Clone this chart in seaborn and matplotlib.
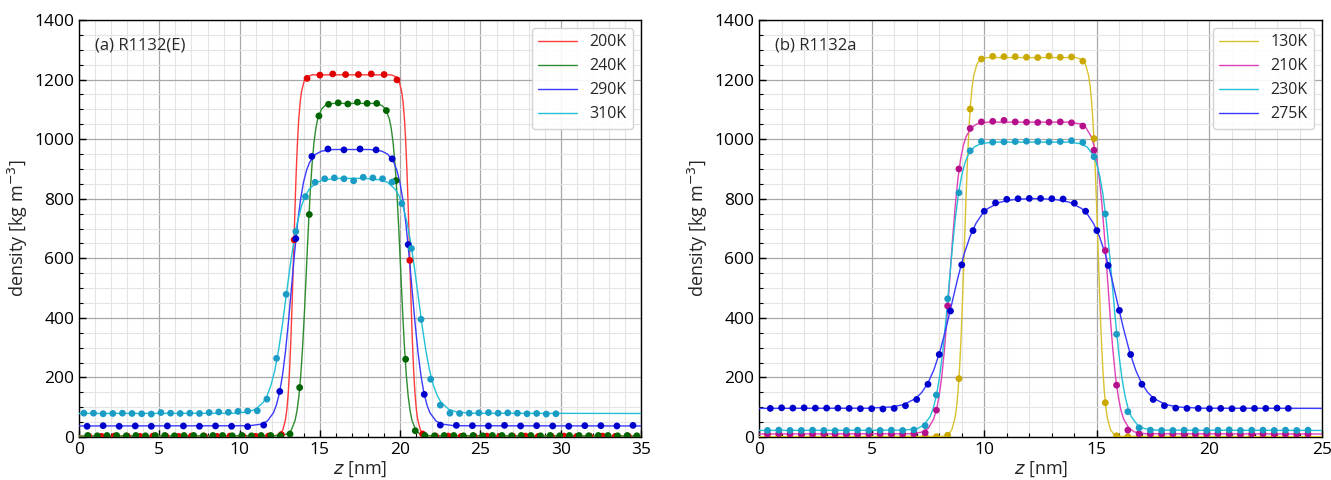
import numpy as np
import pandas as pd
import matplotlib
matplotlib.use("Agg")
import matplotlib.pyplot as plt
from matplotlib.ticker import MultipleLocator
import seaborn as sns

# ---------------- data: (a) R1132(E) ----------------
temps_a = ["200K", "240K", "290K", "310K"]

# simulation points (bin positions in nm, density in kg/m3)
pts_z_200 = np.round(0.6 + 0.8 * np.arange(43), 3)
pts_rho_200 = [3, 2, 3, 3, 2, 3, 3, 2, 3, 3, 2, 3, 3, 2, 3, 8, 662, 1204, 1215, 1219, 1217,
               1217, 1219, 1217, 1199, 593, 10, 3, 3, 2, 3, 3, 2, 3, 3, 2, 3, 3, 2, 3, 3, 2, 3]
pts_z_240 = np.round(0.54 + 0.6 * np.arange(58), 3)
pts_rho_240 = [5, 4, 5, 5, 4, 5, 4, 5, 5, 4, 5, 5, 4, 5, 5, 4, 5, 4, 5, 5, 4,
               10, 166, 747, 1078, 1117, 1122, 1118, 1124, 1120, 1120, 1096, 861, 261, 21, 5,
               4, 5, 5, 4, 5, 4, 5, 5, 4, 5, 5, 4, 5, 4, 5, 5, 4, 5, 5, 4, 5, 4]
pts_z_290 = np.round(0.5 + 1.0 * np.arange(35), 3)
pts_rho_290 = [36, 38, 36, 37, 36, 37, 37, 36, 37, 36, 35, 40, 153, 666, 942, 967, 964, 967,
               964, 934, 646, 143, 40, 39, 38, 37, 39, 37, 38, 37, 36, 38, 38, 37, 39]
pts_z_310 = np.round(0.3 + 0.6 * np.arange(50), 3)
pts_rho_310 = [80, 80, 78, 79, 80, 79, 78, 77, 82, 80, 79, 80, 79, 82, 84, 83,
               86, 87, 88, 127, 264, 479, 690, 807, 855, 867, 870, 867, 860, 872, 870, 867,
               856, 784, 633, 395, 194, 107, 80, 79,
               80, 81, 82, 80, 81, 80, 78, 79, 77, 78]

# fitted profiles
fit_z_200 = [0, 12.205, 12.535, 12.70, 12.865, 12.948, 13.03, 13.113, 13.195, 13.278, 13.36,
             13.443, 13.525, 13.608, 13.69, 13.773, 13.855, 14.02, 14.185, 14.515,
             19.435, 19.765, 19.93, 20.095, 20.178, 20.26, 20.343, 20.425, 20.508, 20.59,
             20.673, 20.755, 20.838, 20.92, 21.003, 21.085, 21.25, 21.415, 21.745, 35]
fit_rho_200 = [3, 4.1, 11.1, 24.9, 60.6, 95.1, 147.7, 224.5, 329.5, 461.3, 610, 758.7, 890.5,
               995.5, 1072.3, 1124.9, 1159.4, 1195.1, 1208.9, 1215.9, 1215.9, 1208.9, 1195.1,
               1159.4, 1124.9, 1072.3, 995.5, 890.5, 758.7, 610, 461.3, 329.5, 224.5, 147.7,
               95.1, 60.6, 24.9, 11.1, 4.1, 3]
fit_z_240 = [0, 12.515, 12.985, 13.22, 13.455, 13.573, 13.69, 13.808, 13.925, 14.043, 14.16,
             14.278, 14.395, 14.513, 14.63, 14.748, 14.865, 15.10, 15.335, 15.805,
             18.385, 18.855, 19.09, 19.325, 19.443, 19.56, 19.678, 19.795, 19.913, 20.03,
             20.148, 20.265, 20.383, 20.5, 20.618, 20.735, 20.97, 21.205, 21.675, 35]
fit_rho_240 = [3, 4.0, 10.5, 23.1, 56.0, 87.8, 136.3, 207.0, 303.7, 425.1, 562, 698.9, 820.3,
               917.0, 987.7, 1036.2, 1068.0, 1100.9, 1113.5, 1120.0, 1120.0, 1113.5, 1100.9,
               1068.0, 1036.2, 987.7, 917.0, 820.3, 698.9, 562, 425.1, 303.7, 207.0, 136.3,
               87.8, 56.0, 23.1, 10.5, 4.0, 3]
fit_z_290 = [0, 10.605, 11.355, 11.73, 12.105, 12.293, 12.48, 12.668, 12.855, 13.043, 13.23,
             13.418, 13.605, 13.793, 13.98, 14.168, 14.355, 14.73, 15.105, 15.855,
             18.105, 18.855, 19.23, 19.605, 19.793, 19.98, 20.168, 20.355, 20.543, 20.73,
             20.918, 21.105, 21.293, 21.48, 21.668, 21.855, 22.23, 22.605, 23.355, 35]
fit_rho_290 = [37, 37.8, 43.2, 53.7, 81.1, 107.5, 147.7, 206.5, 286.9, 387.7, 501.5, 615.3,
               716.1, 796.5, 855.3, 895.5, 921.9, 949.3, 959.8, 965.2, 965.2, 959.8, 949.3,
               921.9, 895.5, 855.3, 796.5, 716.1, 615.3, 501.5, 387.7, 286.9, 206.5, 147.7,
               107.5, 81.1, 53.7, 43.2, 37.8, 37]
fit_z_310 = [0, 9.575, 10.525, 11.0, 11.475, 11.713, 11.95, 12.188, 12.425, 12.663, 12.9,
             13.138, 13.375, 13.613, 13.85, 14.088, 14.325, 14.8, 15.275, 16.225,
             17.795, 18.745, 19.22, 19.695, 19.933, 20.17, 20.408, 20.645, 20.883, 21.12,
             21.358, 21.595, 21.833, 22.07, 22.308, 22.545, 23.02, 23.495, 24.445, 35]
fit_rho_310 = [79, 79.7, 84.3, 93.2, 116.5, 138.9, 173.2, 223.1, 291.5, 377.3, 474, 570.7,
               656.5, 724.9, 774.8, 809.1, 831.5, 854.8, 863.7, 868.3, 868.3, 863.7, 854.8,
               831.5, 809.1, 774.8, 724.9, 656.5, 570.7, 474, 377.3, 291.5, 223.1, 173.2,
               138.9, 116.5, 93.2, 84.3, 79.7, 79]

# ---------------- data: (b) R1132a ----------------
temps_b = ["130K", "210K", "230K", "275K"]

pts_z_130 = np.round(0.375 + 0.5 * np.arange(49), 3)
pts_rho_130 = [1, 2, 1, 1, 2, 1, 1, 2, 1, 1, 2, 1, 1, 2, 1, 1,
               6, 196, 1101, 1269, 1278, 1277, 1277, 1275, 1274, 1279, 1275, 1276, 1262, 1002, 115, 4,
               1, 2, 1, 1, 2, 1, 1, 2, 1, 1, 2, 1, 1, 2, 1, 1, 2]
pts_z_210 = np.round(0.375 + 0.5 * np.arange(49), 3)
pts_rho_210 = [10, 11, 10, 9, 10, 11, 10, 10, 9, 10, 11, 10, 10, 11,
               14, 90, 440, 900, 1036, 1058, 1060, 1063, 1058, 1057, 1056, 1057, 1058, 1055,
               1044, 963, 626, 174, 23, 11,
               10, 10, 11, 9, 10, 10, 11, 10, 9, 10, 11, 10, 10, 9, 10]
pts_z_230 = np.round(0.375 + 0.5 * np.arange(49), 3)
pts_rho_230 = [22, 23, 22, 22, 23, 22, 21, 22, 23, 22, 22, 23, 22,
               24, 38, 141, 464, 820, 961, 992, 990, 991, 992, 993, 992, 991, 992, 995,
               989, 941, 749, 345, 85, 31,
               23, 22, 22, 23, 22, 22, 23, 24, 22, 23, 23, 22, 23, 22, 23]
pts_z_275 = np.round(0.5 * np.arange(1, 48), 3)
pts_rho_275 = [96, 98, 97, 98, 97, 97, 97, 96, 95, 95,
               94, 96, 105, 126, 177, 277, 423, 578, 693, 758, 786, 798, 800, 801, 801, 800,
               799, 785, 758, 693, 576, 425, 277, 177, 126, 105, 97, 96,
               96, 95, 96, 95, 95, 96, 96, 97, 96]

fit_z_130 = [0, 8.135, 8.415, 8.555, 8.695, 8.765, 8.835, 8.905, 8.975, 9.045, 9.115, 9.185,
             9.255, 9.325, 9.395, 9.465, 9.535, 9.675, 9.815, 10.095,
             14.07, 14.35, 14.49, 14.63, 14.70, 14.77, 14.84, 14.91, 14.98, 15.05, 15.12,
             15.19, 15.26, 15.33, 15.40, 15.47, 15.61, 15.75, 16.03, 25]
fit_rho_130 = [1, 2.1, 9.5, 23.9, 61.5, 97.6, 152.9, 233.4, 343.6, 482.0, 638, 794.0, 932.4,
               1042.6, 1123.1, 1178.4, 1214.5, 1252.1, 1266.5, 1273.9, 1273.9, 1266.5, 1252.1,
               1214.5, 1178.4, 1123.1, 1042.6, 932.4, 794.0, 638, 482.0, 343.6, 233.4, 152.9,
               97.6, 61.5, 23.9, 9.5, 2.1, 1]
fit_z_210 = [0, 6.79, 7.27, 7.51, 7.75, 7.87, 7.99, 8.11, 8.23, 8.35, 8.47, 8.59, 8.71, 8.83,
             8.95, 9.07, 9.19, 9.43, 9.67, 10.15,
             13.79, 14.27, 14.51, 14.75, 14.87, 14.99, 15.11, 15.23, 15.35, 15.47, 15.59,
             15.71, 15.83, 15.95, 16.07, 16.19, 16.43, 16.67, 17.15, 25]
fit_rho_210 = [10, 10.9, 17.0, 28.9, 59.7, 89.5, 134.9, 201.2, 291.9, 405.7, 534, 662.3, 776.1,
               866.8, 933.1, 978.5, 1008.3, 1039.1, 1051.0, 1057.1, 1057.1, 1051.0, 1039.1,
               1008.3, 978.5, 933.1, 866.8, 776.1, 662.3, 534, 405.7, 291.9, 201.2, 134.9,
               89.5, 59.7, 28.9, 17.0, 10.9, 10]
fit_z_230 = [0, 6.47, 7.03, 7.31, 7.59, 7.73, 7.87, 8.01, 8.15, 8.29, 8.43, 8.57, 8.71, 8.85,
             8.99, 9.13, 9.27, 9.55, 9.83, 10.39,
             13.73, 14.29, 14.57, 14.85, 14.99, 15.13, 15.27, 15.41, 15.55, 15.69, 15.83,
             15.97, 16.11, 16.25, 16.39, 16.53, 16.81, 17.09, 17.65, 25]
fit_rho_230 = [22, 22.9, 28.5, 39.4, 68.0, 95.5, 137.5, 198.8, 282.6, 387.8, 506.5, 625.2,
               730.4, 814.2, 875.5, 917.5, 945.0, 973.6, 984.5, 990.1, 990.1, 984.5, 973.6,
               945.0, 917.5, 875.5, 814.2, 730.4, 625.2, 506.5, 387.8, 282.6, 198.8, 137.5,
               95.5, 68.0, 39.4, 28.5, 22.9, 22]
fit_z_275 = [0, 4.815, 5.885, 6.42, 6.955, 7.223, 7.49, 7.758, 8.025, 8.293, 8.56, 8.828,
             9.095, 9.363, 9.63, 9.898, 10.165, 10.70, 11.235, 11.77, 12.24,
             12.71, 13.245, 13.78, 14.315, 14.583, 14.85, 15.118, 15.385, 15.653, 15.92,
             16.188, 16.455, 16.723, 16.99, 17.258, 17.525, 18.06, 18.595, 19.665, 25]
fit_rho_275 = [96, 96.6, 100.7, 108.7, 129.5, 149.5, 180.0, 224.6, 285.6, 362.2, 448.5, 534.8,
               611.4, 672.4, 717.0, 747.5, 767.5, 788.3, 796.3, 799.3, 800.5, 799.3, 796.3,
               788.3, 767.5, 747.5, 717.0, 672.4, 611.4, 534.8, 448.5, 362.2, 285.6, 224.6,
               180.0, 149.5, 129.5, 108.7, 100.7, 96.6, 96]

# (line colour, point colour)
colors_a = [("#ff3b3b", "#e00000"), ("#2e8b2e", "#006400"),
            ("#3a3aff", "#0000cd"), ("#22c0d6", "#1a9cc4")]
colors_b = [("#d9c22e", "#c9a800"), ("#e040b8", "#b5108c"),
            ("#22c0d6", "#1a9cc4"), ("#3a3aff", "#0000cd")]

series_a = [(fit_z_200, fit_rho_200, pts_z_200, pts_rho_200),
            (fit_z_240, fit_rho_240, pts_z_240, pts_rho_240),
            (fit_z_290, fit_rho_290, pts_z_290, pts_rho_290),
            (fit_z_310, fit_rho_310, pts_z_310, pts_rho_310)]
series_b = [(fit_z_130, fit_rho_130, pts_z_130, pts_rho_130),
            (fit_z_210, fit_rho_210, pts_z_210, pts_rho_210),
            (fit_z_230, fit_rho_230, pts_z_230, pts_rho_230),
            (fit_z_275, fit_rho_275, pts_z_275, pts_rho_275)]

sns.set_style("whitegrid")
plt.rcParams['font.family'] = ['Open Sans', 'DejaVu Sans']
plt.rcParams['mathtext.fontset'] = 'dejavusans'

fig = plt.figure(figsize=(13.31, 4.8), dpi=100)
ax_a = fig.add_axes([0.0594, 0.0896, 0.4222, 0.8687])
ax_b = fig.add_axes([0.5703, 0.0896, 0.4230, 0.8687])


def draw_panel(ax, series, temps, colors, xmax, title):
    for (fz, frho, pz, prho), t, (lc, pc) in zip(series, temps, colors):
        fit_df = pd.DataFrame({"z": fz, "rho": frho})
        pts_df = pd.DataFrame({"z": pz, "rho": prho})
        sns.lineplot(data=fit_df, x="z", y="rho", ax=ax, color=lc, lw=1.0,
                     label=t, sort=False, zorder=3)
        sns.scatterplot(data=pts_df, x="z", y="rho", ax=ax, color=pc, s=24,
                        edgecolor="none", legend=False, zorder=4)

    ax.set_xlim(0, xmax)
    ax.set_ylim(0, 1400)
    ax.xaxis.set_major_locator(MultipleLocator(5))
    ax.xaxis.set_minor_locator(MultipleLocator(1))
    ax.yaxis.set_major_locator(MultipleLocator(200))
    ax.yaxis.set_minor_locator(MultipleLocator(50))
    ax.grid(which="major", color="#a8a8a8", lw=0.9)
    ax.grid(which="minor", color="#e4e4e4", lw=0.8)
    ax.set_axisbelow(True)
    for sp in ax.spines.values():
        sp.set_color("black")
        sp.set_linewidth(1.0)
    ax.tick_params(which="both", direction="in", left=True, bottom=True,
                   labelsize=12.5, colors="black")
    ax.tick_params(which="major", length=5, width=1)
    ax.tick_params(which="minor", length=3, width=0.8)
    ax.set_xlabel("$z$ [nm]", fontsize=13, labelpad=1)
    ax.set_ylabel("density [kg m$^{-3}$]", fontsize=13, labelpad=3)
    ax.text(0.028, 0.94, title, transform=ax.transAxes, fontsize=12, va="center")
    leg = ax.legend(loc="upper right", fontsize=11.5, handlelength=2.4,
                    frameon=True, fancybox=True, borderaxespad=0.5)
    leg.get_frame().set_edgecolor("#d0d0d0")
    leg.get_frame().set_facecolor("white")
    leg.get_frame().set_alpha(0.9)


draw_panel(ax_a, series_a, temps_a, colors_a, 35, "(a) R1132(E)")
draw_panel(ax_b, series_b, temps_b, colors_b, 25, "(b) R1132a")

fig.savefig("out.png", dpi=100)
